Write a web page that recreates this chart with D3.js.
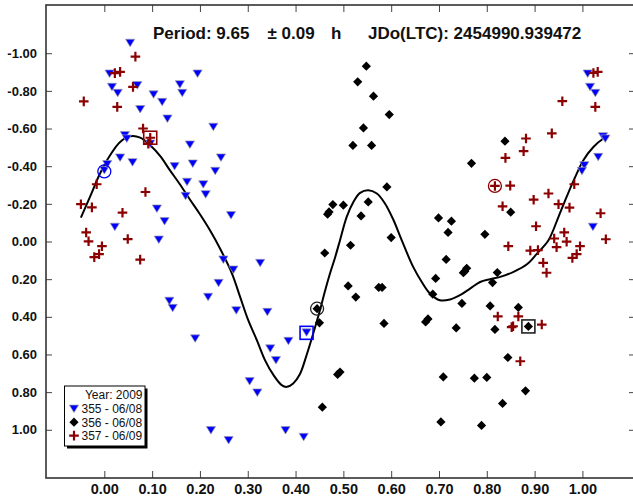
<!DOCTYPE html>
<html><head><meta charset="utf-8">
<script src="https://cdn.jsdelivr.net/npm/d3@7"></script>
<style>
body{margin:0;background:#fff;}
svg{display:block;font-family:"Liberation Sans",Arial,sans-serif;}
</style>
</head><body>
<svg id="c" width="633" height="496"></svg>
<script>
// ---------- DATA ----------
const xTicks = [0.0,0.1,0.2,0.3,0.4,0.5,0.6,0.7,0.8,0.9,1.0];
const yTicks = [-1.0,-0.8,-0.6,-0.4,-0.2,0.0,0.2,0.4,0.6,0.8,1.0];
const titleParts = ["Period: 9.65", "\u00B1 0.09", "h", "JDo(LTC): 2454990.939472"];
const legendTitle = "Year: 2009";
const seriesNames = ["355 - 06/08", "356 - 06/08", "357 - 06/09"];

// [phase, relative magnitude]
const series355 = [[0.054,-1.055],[0.011,-0.892],[0.016,-0.821],[0.028,-0.789],[0.069,-0.830],[0.103,-0.781],[0.121,-0.741],[0.075,-0.703],[0.132,-0.653],[0.195,-0.892],[0.158,-0.835],[0.163,-0.789],[0.228,-0.609],[0.043,-0.565],[0.047,-0.547],[0.096,-0.520],[0.179,-0.515],[0.244,-0.446],[0.033,-0.446],[0.059,-0.421],[0.147,-0.400],[0.185,-0.414],[0.232,-0.375],[0.000,-0.379],[0.006,-0.411],[0.173,-0.317],[0.207,-0.304],[0.212,-0.251],[0.170,-0.242],[0.110,-0.175],[0.126,-0.108],[0.265,-0.140],[0.022,-0.078],[0.114,-0.010],[0.249,0.096],[0.270,0.149],[0.326,0.114],[0.239,0.220],[0.217,0.294],[0.136,0.315],[0.143,0.353],[0.276,0.365],[0.341,0.374],[0.190,0.515],[0.423,0.483],[0.385,0.528],[0.347,0.568],[0.359,0.630],[0.304,0.742],[0.320,0.802],[0.223,1.002],[0.260,1.055],[0.379,1.002],[0.417,1.038],[1.011,-0.892],[1.016,-0.821],[1.027,-0.789],[1.043,-0.559],[1.048,-0.547],[1.033,-0.449],[1.004,-0.405],[0.999,-0.375],[1.022,-0.078]];

const series356 = [[0.548,-0.931],[0.530,-0.848],[0.563,-0.772],[0.596,-0.674],[0.542,-0.603],[0.520,-0.510],[0.559,-0.510],[0.591,-0.290],[0.552,-0.210],[0.478,-0.196],[0.500,-0.193],[0.470,-0.157],[0.467,-0.145],[0.537,-0.136],[0.699,-0.125],[0.719,-0.048],[0.600,-0.021],[0.515,0.020],[0.461,0.061],[0.838,-0.533],[0.768,-0.415],[0.850,-0.156],[0.726,-0.108],[0.796,-0.038],[0.715,0.095],[0.758,0.142],[0.754,0.158],[0.751,0.166],[0.822,0.165],[0.812,0.218],[0.693,0.196],[0.510,0.236],[0.574,0.244],[0.581,0.244],[0.526,0.295],[0.687,0.280],[0.748,0.329],[0.807,0.342],[0.866,0.350],[0.445,0.357],[0.450,0.432],[0.585,0.435],[0.677,0.411],[0.672,0.427],[0.736,0.459],[0.817,0.467],[0.887,0.451],[0.844,0.616],[0.493,0.693],[0.488,0.706],[0.709,0.719],[0.774,0.726],[0.800,0.722],[0.881,0.793],[0.833,0.860],[0.456,0.880],[0.704,0.958],[0.789,0.977]];

const series357 = [[-0.043,-0.744],[0.065,-0.982],[0.022,-0.894],[0.033,-0.901],[0.060,-0.821],[0.027,-0.715],[0.081,-0.600],[0.096,-0.551],[0.092,-0.520],[-0.016,-0.304],[0.086,-0.263],[-0.049,-0.198],[-0.026,-0.181],[0.038,-0.153],[-0.038,-0.048],[-0.033,-0.001],[-0.005,0.025],[0.049,-0.013],[-0.021,0.083],[-0.011,0.067],[0.075,0.096],[1.023,-0.895],[1.032,-0.901],[0.958,-0.745],[1.027,-0.715],[0.936,-0.574],[0.882,-0.547],[0.877,-0.480],[0.839,-0.444],[0.817,-0.295],[0.849,-0.297],[0.983,-0.304],[0.929,-0.255],[0.898,-0.222],[0.833,-0.187],[0.950,-0.198],[0.973,-0.180],[1.038,-0.150],[0.903,-0.081],[0.962,-0.048],[0.941,-0.016],[0.967,0.001],[1.049,-0.012],[0.845,0.025],[0.891,0.048],[0.907,0.046],[0.946,0.030],[0.995,0.025],[0.988,0.067],[0.979,0.087],[0.918,0.113],[0.925,0.166],[0.823,0.398],[0.866,0.398],[0.855,0.450],[0.852,0.455],[0.915,0.441],[0.870,0.636]];

// fitted curve
const fitCurve = [[-0.049,-0.127],[-0.030,-0.237],[-0.009,-0.361],[0.012,-0.458],[0.033,-0.529],[0.054,-0.559],[0.075,-0.552],[0.096,-0.511],[0.117,-0.453],[0.137,-0.379],[0.158,-0.304],[0.179,-0.223],[0.200,-0.145],[0.221,-0.060],[0.242,0.037],[0.267,0.170],[0.284,0.294],[0.301,0.418],[0.319,0.524],[0.336,0.630],[0.354,0.710],[0.371,0.763],[0.382,0.772],[0.395,0.754],[0.409,0.705],[0.423,0.604],[0.437,0.489],[0.451,0.365],[0.462,0.259],[0.472,0.170],[0.483,0.082],[0.493,-0.007],[0.507,-0.131],[0.521,-0.210],[0.535,-0.258],[0.552,-0.272],[0.570,-0.255],[0.587,-0.202],[0.605,-0.113],[0.622,-0.007],[0.646,0.135],[0.664,0.215],[0.681,0.276],[0.702,0.312],[0.723,0.308],[0.744,0.285],[0.765,0.250],[0.786,0.215],[0.807,0.200],[0.828,0.188],[0.856,0.161],[0.884,0.121],[0.905,0.064],[0.929,-0.007],[0.950,-0.131],[0.967,-0.237],[0.985,-0.343],[1.002,-0.432],[1.023,-0.502],[1.044,-0.547],[1.054,-0.559]];

// highlighted points (circle / square) for each series: 355, 356, 357
const circleMarks = [[0.000,-0.372],[0.445,0.357],[0.817,-0.295]];
const squareMarks = [[0.423,0.485],[0.887,0.451],[0.096,-0.551]];

// ---------- DRAW ----------
const svg = d3.select("#c");
const L = 46, R = 635, T = 5, B = 478;
const x = d3.scaleLinear().domain([-0.122, 1.110]).range([L, R]);
const y = d3.scaleLinear().domain([-1.256, 1.256]).range([T, B]);
const fmt = v => (Math.abs(v) < 1e-9 ? 0 : v).toFixed(2);

const colors = ["#0000ff", "#000000", "#8b0000"];
const triPath = "M-4.6,-3.6L4.6,-3.6L0,3.9Z";
const diaPath = "M0,-4.6L4.6,0L0,4.6L-4.6,0Z";
const crossPath = "M-4.8,0H4.8M0,-4.8V4.8";

svg.append("rect").attr("width",633).attr("height",496).attr("fill","#fff");

// axes
const axL = d3.axisLeft(y).tickValues(yTicks).tickFormat(fmt).tickSizeInner(-6).tickSizeOuter(0).tickPadding(9);
const axR = d3.axisRight(y).tickValues(yTicks).tickFormat("").tickSizeInner(-6).tickSizeOuter(0);
const axB = d3.axisBottom(x).tickValues(xTicks).tickFormat(fmt).tickSizeInner(-7).tickSizeOuter(0).tickPadding(5.8);
const axT = d3.axisTop(x).tickValues(xTicks).tickFormat("").tickSizeInner(-7).tickSizeOuter(0);

function styleAxis(g, fs){
  g.select(".domain").remove();
  g.selectAll(".tick line").attr("stroke","#444").attr("stroke-width",1);
  g.selectAll(".tick text").attr("fill","#111").attr("font-weight","bold").attr("font-size",fs)
   .attr("font-family","'Liberation Sans',Arial,sans-serif");
}
svg.append("g").attr("transform",`translate(${L},0)`).call(axL).call(g=>styleAxis(g,13));
svg.append("g").attr("transform",`translate(${R},0)`).call(axR).call(g=>styleAxis(g,13));
svg.append("g").attr("transform",`translate(0,${B})`).call(axB).call(g=>styleAxis(g,14.5));
svg.append("g").attr("transform",`translate(0,${T})`).call(axT).call(g=>styleAxis(g,13));

// frame
svg.append("rect").attr("x",L).attr("y",T).attr("width",R-L).attr("height",B-T)
  .attr("fill","none").attr("stroke","#333").attr("stroke-width",1.6);

// title
const titleX = [153, 267.5, 331, 368];
svg.append("g").selectAll("text").data(titleParts).join("text")
  .attr("x",(d,i)=>titleX[i]).attr("y",39.3)
  .attr("font-size",17).attr("font-weight","bold").attr("fill","#111")
  .text(d=>d);

// curve
const line = d3.line().x(d=>x(d[0])).y(d=>y(d[1])).curve(d3.curveCatmullRom);
svg.append("path").datum(fitCurve).attr("d",line).attr("fill","none")
  .attr("stroke","#000").attr("stroke-width",2);

// points
function drawTri(g, data){
  g.selectAll("path").data(data).join("path")
    .attr("transform",d=>`translate(${x(d[0])},${y(d[1])})`)
    .attr("d",triPath).attr("fill",colors[0]).attr("stroke","#9a9aa8").attr("stroke-width",0.7);
}
function drawDia(g, data){
  g.selectAll("path").data(data).join("path")
    .attr("transform",d=>`translate(${x(d[0])},${y(d[1])})`)
    .attr("d",diaPath).attr("fill",colors[1]);
}
function drawCross(g, data){
  g.selectAll("path").data(data).join("path")
    .attr("transform",d=>`translate(${x(d[0])},${y(d[1])})`)
    .attr("d",crossPath).attr("fill","none").attr("stroke",colors[2]).attr("stroke-width",2.2);
}
drawTri(svg.append("g"), series355);
drawDia(svg.append("g"), series356);
drawCross(svg.append("g"), series357);

// highlight marks
const markStroke = ["#0000ff","#222","#8b0000"];
svg.append("g").selectAll("circle").data(circleMarks).join("circle")
  .attr("cx",d=>x(d[0])).attr("cy",d=>y(d[1])).attr("r",6.5)
  .attr("fill","none").attr("stroke",(d,i)=>markStroke[i]).attr("stroke-width",1.3);
svg.append("g").selectAll("rect").data(squareMarks).join("rect")
  .attr("x",d=>x(d[0])-6.5).attr("y",d=>y(d[1])-6.5).attr("width",13).attr("height",13)
  .attr("fill","none").attr("stroke",(d,i)=>markStroke[i]).attr("stroke-width",1.6);

// legend
const lg = svg.append("g");
lg.append("rect").attr("x",67).attr("y",388.5).attr("width",80.5).attr("height",60).attr("fill","#000");
lg.append("rect").attr("x",64.5).attr("y",386).attr("width",80.5).attr("height",60)
  .attr("fill","#fff").attr("stroke","#000").attr("stroke-width",1);
lg.append("text").attr("x",142.5).attr("y",399).attr("text-anchor","end")
  .attr("font-size",12).attr("fill","#111").text(legendTitle);
const rowY = [408.7, 422.2, 435.6];
const legPaths = [triPath, diaPath, crossPath];
seriesNames.forEach((nm,i)=>{
  const p = lg.append("path").attr("transform",`translate(74,${rowY[i]})`).attr("d",legPaths[i]);
  if(i===0) p.attr("fill",colors[0]).attr("stroke","#9a9aa8").attr("stroke-width",0.7);
  else if(i===1) p.attr("fill",colors[1]);
  else p.attr("fill","none").attr("stroke",colors[2]).attr("stroke-width",2.2);
  lg.append("text").attr("x",81.5).attr("y",rowY[i]+4.3).attr("font-size",12).attr("fill","#111").text(nm);
});
</script>
</body></html>
